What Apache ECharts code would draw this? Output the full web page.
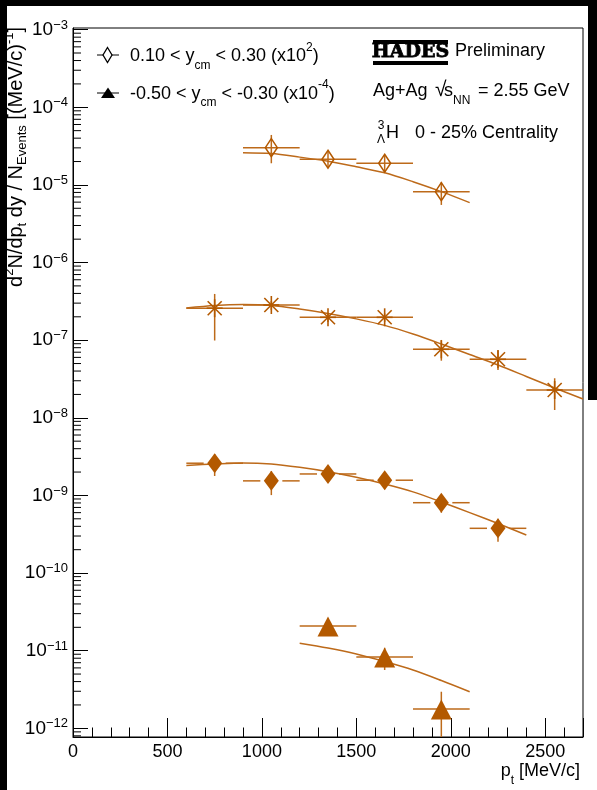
<!DOCTYPE html>
<html>
<head>
<meta charset="utf-8">
<script src="https://cdn.jsdelivr.net/npm/echarts@6/dist/echarts.min.js"></script>
<style>
  html, body { margin: 0; padding: 0; background: #000; }
  #paper { position: absolute; left: 7px; top: 6px; width: 590px; height: 784px; background: #fff; }
  #edge { position: absolute; left: 588px; top: 0; width: 9px; height: 400px; background: #000; }
  #chart { position: absolute; left: 0; top: 0; width: 597px; height: 790px; }
</style>
</head>
<body>
<div id="paper"></div>
<div id="edge"></div>
<div id="chart"></div>
<script>
const FONT = '"Liberation Sans", Arial, Helvetica, sans-serif';
const MARKER = '#b35900';
const LINE = '#bd6a1a';

const PT_HALF_BIN = 150;
const Y_MIN = 7.73e-13;
const Y_MAX = 1.05e-3;

// 0.10 < y_cm < 0.30 (x10^2), open diamonds
const ptOpen = [1050, 1350, 1650, 1950];
const yOpen = [3.02e-5, 2.14e-5, 1.90e-5, 8.19e-6];
const loOpen = [1.90e-5, 1.65e-5, 1.45e-5, 5.52e-6];
const hiOpen = [4.40e-5, 2.70e-5, 2.40e-5, 1.08e-5];

// stars
const ptStar = [750, 1050, 1350, 1650, 1950, 2250, 2550];
const yStar = [2.58e-7, 2.84e-7, 1.97e-7, 1.97e-7, 7.63e-8, 5.67e-8, 2.28e-8];
const loStar = [9.9e-8, 2.45e-7, 1.72e-7, 1.72e-7, 5.44e-8, 4.13e-8, 1.26e-8];
const hiStar = [3.94e-7, 3.2e-7, 2.22e-7, 2.22e-7, 1.006e-7, 7.48e-8, 3.23e-8];

// filled diamonds
const ptDiamond = [750, 1050, 1350, 1650, 1950, 2250];
const yDiamond = [2.60e-9, 1.54e-9, 1.89e-9, 1.57e-9, 8.06e-10, 3.77e-10];
const loDiamond = [1.78e-9, 1.01e-9, 1.65e-9, 1.20e-9, 5.99e-10, 2.54e-10];
const hiDiamond = [3.4e-9, 2.06e-9, 2.13e-9, 1.93e-9, 1.01e-9, 5.0e-10];

// -0.50 < y_cm < -0.30 (x10^-4), triangles
const ptTriangle = [1350, 1650, 1950];
const yTriangle = [2.08e-11, 8.29e-12, 1.77e-12];
const loTriangle = [1.9e-11, 5.64e-12, 5.8e-13];
const hiTriangle = [2.26e-11, 1.09e-11, 2.96e-12];

// fit curves
const fitPtOpen = [900, 1050, 1200, 1350, 1500, 1650, 1800, 1950, 2100];
const fitOpen = [2.60e-5, 2.53e-5, 2.28e-5, 2.02e-5, 1.71e-5, 1.43e-5, 1.10e-5, 8.19e-6, 5.91e-6];
const fitPtStar = [600, 750, 900, 1050, 1200, 1350, 1500, 1650, 1800, 1950, 2100, 2250, 2400, 2550, 2700];
const fitStar = [2.60e-7, 2.80e-7, 2.88e-7, 2.80e-7, 2.52e-7, 2.21e-7, 1.88e-7, 1.55e-7, 1.20e-7,
  8.93e-8, 6.54e-8, 4.79e-8, 3.41e-8, 2.42e-8, 1.75e-8];
const fitPtDiamond = [600, 750, 900, 1050, 1200, 1350, 1500, 1650, 1800, 1950, 2100, 2250, 2400];
const fitDiamond = [2.43e-9, 2.54e-9, 2.62e-9, 2.54e-9, 2.30e-9, 2.02e-9, 1.71e-9, 1.40e-9, 1.11e-9,
  8.23e-10, 6.01e-10, 4.35e-10, 3.09e-10];
const fitPtTriangle = [1200, 1350, 1500, 1650, 1800, 1950, 2100];
const fitTriangle = [1.245e-11, 1.08e-11, 9.06e-12, 7.25e-12, 5.64e-12, 4.13e-12, 2.96e-12];

// log minor ticks 2..9 x 10^n
const MINOR_MANTISSA = [2, 3, 4, 5, 6, 7, 8, 9];
const MINOR_DECADES = [-13, -12, -11, -10, -9, -8, -7, -6, -5, -4, -3];

const minorTickValues = [];
MINOR_DECADES.forEach(function (d) {
  MINOR_MANTISSA.forEach(function (m) {
    const v = m * Math.pow(10, d);
    if (v > Y_MIN && v < Y_MAX) minorTickValues.push(v);
  });
});

const RICH_Z = {
  b: { fill: '#000', fontSize: 18, fontFamily: FONT, lineHeight: 30 },
  sup: { fill: '#000', fontSize: 12, fontFamily: FONT, lineHeight: 11, verticalAlign: 'top' },
  sub: { fill: '#000', fontSize: 12, fontFamily: FONT, lineHeight: 11, verticalAlign: 'bottom' },
};
const RICH_TITLE = {
  b: { fill: '#000', fontSize: 20, fontFamily: FONT, lineHeight: 26 },
  sup: { fill: '#000', fontSize: 13, fontFamily: FONT, lineHeight: 12, verticalAlign: 'top' },
  sub: { fill: '#000', fontSize: 13, fontFamily: FONT, lineHeight: 14, verticalAlign: 'bottom' },
};

function text(x, y, str, extra) {
  return {
    type: 'text', x: x, y: y, z: 10,
    style: Object.assign({
      text: str, fill: '#000', fontSize: 18, fontFamily: FONT,
      align: 'left', verticalAlign: 'middle', rich: RICH_Z,
    }, extra || {}),
  };
}

function diamondPts(c, w, h) {
  return [[c[0], c[1] - h], [c[0] + w, c[1]], [c[0], c[1] + h], [c[0] - w, c[1]]];
}

const MARKERS = {
  openDiamond: function (c) {
    return { type: 'polygon', shape: { points: diamondPts(c, 6, 9) },
      style: { fill: 'none', stroke: MARKER, lineWidth: 1.5 } };
  },
  star: function (c) {
    const segs = [[0, -9, 0, 9], [-8, 0, 8, 0], [-7, -7, 7, 7], [-7, 7, 7, -7]];
    return { type: 'group', children: segs.map(function (s) {
      return { type: 'line', shape: { x1: c[0] + s[0], y1: c[1] + s[1], x2: c[0] + s[2], y2: c[1] + s[3] },
        style: { stroke: MARKER, lineWidth: 1.6 } };
    }) };
  },
  filledDiamond: function (c) {
    return { type: 'polygon', shape: { points: diamondPts(c, 7.5, 10) }, style: { fill: MARKER } };
  },
  triangle: function (c) {
    return { type: 'polygon',
      shape: { points: [[c[0], c[1] - 9.5], [c[0] + 10.5, c[1] + 10.5], [c[0] - 10.5, c[1] + 10.5]] },
      style: { fill: MARKER } };
  },
};

function pointSeries(name, pts, ys, los, his, marker, gap) {
  return {
    type: 'custom', name: name, clip: true, z: 4, silent: true,
    data: pts.map(function (p, i) { return [p, ys[i], los[i], his[i]]; }),
    renderItem: function (params, api) {
      const x = api.value(0), y = api.value(1);
      const c = api.coord([x, y]);
      const l = api.coord([x - PT_HALF_BIN, y]);
      const r = api.coord([x + PT_HALF_BIN, y]);
      const lo = api.coord([x, api.value(2)]);
      const hi = api.coord([x, api.value(3)]);
      const ls = { stroke: LINE, lineWidth: 1.5 };
      const children = [];
      if (gap) {
        children.push({ type: 'line', shape: { x1: l[0], y1: c[1], x2: c[0] - gap, y2: c[1] }, style: ls });
        children.push({ type: 'line', shape: { x1: c[0] + gap, y1: c[1], x2: r[0], y2: c[1] }, style: ls });
      } else {
        children.push({ type: 'line', shape: { x1: l[0], y1: c[1], x2: r[0], y2: c[1] }, style: ls });
      }
      children.push({ type: 'line', shape: { x1: c[0], y1: lo[1], x2: c[0], y2: hi[1] }, style: ls });
      children.push(MARKERS[marker](c));
      return { type: 'group', children: children };
    },
  };
}

function fitSeries(pts, vals) {
  return {
    type: 'line', z: 3, silent: true, showSymbol: false, symbol: 'none', smooth: 0.3,
    data: pts.map(function (p, i) { return [p, vals[i]]; }),
    lineStyle: { color: LINE, width: 1.5 },
  };
}

const axisLineStyle = { color: '#000', width: 1 };

const chart = echarts.init(document.getElementById('chart'), null, { renderer: 'canvas' });
chart.setOption({
  animation: false,
  backgroundColor: 'transparent',
  grid: {
    left: 73, top: 28, width: 510, height: 709,
    show: true, borderColor: '#000', borderWidth: 1, backgroundColor: 'transparent',
    containLabel: false, outerBoundsMode: 'none',
  },
  xAxis: {
    type: 'value', min: 0, max: 2700, interval: 500,
    axisLine: { show: true, onZero: false, lineStyle: axisLineStyle },
    axisTick: { show: true, inside: true, length: 19, lineStyle: axisLineStyle },
    minorTick: { show: true, splitNumber: 5, length: 9.5, lineStyle: axisLineStyle },
    splitLine: { show: false },
    minorSplitLine: { show: false },
    axisLabel: {
      color: '#000', fontSize: 18, fontFamily: FONT, margin: 6,
      showMinLabel: true, showMaxLabel: false,
      formatter: function (v) { return v > 2500 ? '' : String(v); },
    },
  },
  yAxis: {
    type: 'log', logBase: 10, min: Y_MIN, max: Y_MAX,
    axisLine: { show: true, onZero: false, lineStyle: axisLineStyle },
    axisTick: { show: true, inside: true, length: 15, lineStyle: axisLineStyle },
    minorTick: { show: false },
    splitLine: { show: false },
    axisLabel: {
      margin: 5, showMinLabel: false, showMaxLabel: false,
      formatter: function (v) {
        const lg = Math.log10(v);
        const e = Math.round(lg);
        if (Math.abs(lg - e) > 1e-6) return '';
        return '{b|10}{s|\u2212' + (-e) + '}';
      },
      rich: {
        b: { color: '#000', fontSize: 19, fontFamily: FONT, lineHeight: 22 },
        s: { color: '#000', fontSize: 13, fontFamily: FONT, lineHeight: 12, verticalAlign: 'top' },
      },
    },
  },
  series: [
    fitSeries(fitPtOpen, fitOpen),
    fitSeries(fitPtStar, fitStar),
    fitSeries(fitPtDiamond, fitDiamond),
    fitSeries(fitPtTriangle, fitTriangle),
    pointSeries('0.10 < y_cm < 0.30', ptOpen, yOpen, loOpen, hiOpen, 'openDiamond', 0),
    pointSeries('stars', ptStar, yStar, loStar, hiStar, 'star', 0),
    pointSeries('filled diamonds', ptDiamond, yDiamond, loDiamond, hiDiamond, 'filledDiamond', 11),
    pointSeries('-0.50 < y_cm < -0.30', ptTriangle, yTriangle, loTriangle, hiTriangle, 'triangle', 0),
    {
      type: 'custom', silent: true, clip: false, z: 5,
      data: minorTickValues.map(function (v) { return [0, v]; }),
      renderItem: function (params, api) {
        const c = api.coord([api.value(0), api.value(1)]);
        return { type: 'line', shape: { x1: c[0], y1: c[1], x2: c[0] + 8, y2: c[1] },
          style: { stroke: '#000', lineWidth: 1 } };
      },
    },
  ],
  graphic: [
    // legend
    { type: 'line', shape: { x1: 97, y1: 55, x2: 119, y2: 55 }, style: { stroke: '#000', lineWidth: 1 } },
    { type: 'polygon', shape: { points: diamondPts([107.5, 55], 4.5, 7.5) },
      style: { fill: '#fff', stroke: '#000', lineWidth: 1.3 } },
    text(130, 56.5, '{b|0.10 < y}{sub|cm}{b| < 0.30 (x10}{sup|2}{b|)}'),
    { type: 'line', shape: { x1: 97, y1: 93, x2: 119, y2: 93 }, style: { stroke: '#000', lineWidth: 1 } },
    { type: 'polygon', shape: { points: [[108, 87.5], [115, 98], [101, 98]] }, style: { fill: '#000' } },
    text(130, 93.7, '{b|-0.50 < y}{sub|cm}{b| < -0.30 (x10}{sup|-4}{b|)}'),
    // HADES logo
    { type: 'rect', shape: { x: 373, y: 40, width: 75, height: 4 }, style: { fill: '#000' } },
    { type: 'rect', shape: { x: 373, y: 61, width: 75, height: 4 }, style: { fill: '#000' } },
    text(410.5, 52.5, 'HADES', { align: 'center', fontWeight: 'bold', fontFamily: '"DejaVu Serif", serif', fontSize: 19,
      stroke: '#000', lineWidth: 0.8 }),
    text(455, 51.5, 'Preliminary'),
    text(373, 91.5, 'Ag+Ag'),
    text(435, 90, '\u221a', { fontSize: 21 }),
    text(444, 91.5, '{b|s}{sub|NN}'),
    text(478, 91.5, '= 2.55 GeV'),
    text(381, 126, '3', { align: 'center', fontSize: 12 }),
    text(381, 139.5, '\u039b', { align: 'center', fontSize: 12 }),
    text(386, 133, 'H'),
    text(415, 133, '0 - 25% Centrality'),
    // axis titles
    text(580, 771.5, '{b|p}{sub|t}{b| [MeV/c]}', { align: 'right' }),
    {
      type: 'text', x: 29, y: 27, rotation: Math.PI / 2, z: 10,
      style: {
        text: '{b|d}{sup|2}{b|N/dp}{sub|t}{b| dy / N}{sub|Events}{b| [(MeV/c)}{sup|-1}{b|]}',
        rich: RICH_TITLE, fill: '#000', fontSize: 20, fontFamily: FONT,
        align: 'right', verticalAlign: 'bottom',
      },
    },
  ],
});
</script>
</body>
</html>
